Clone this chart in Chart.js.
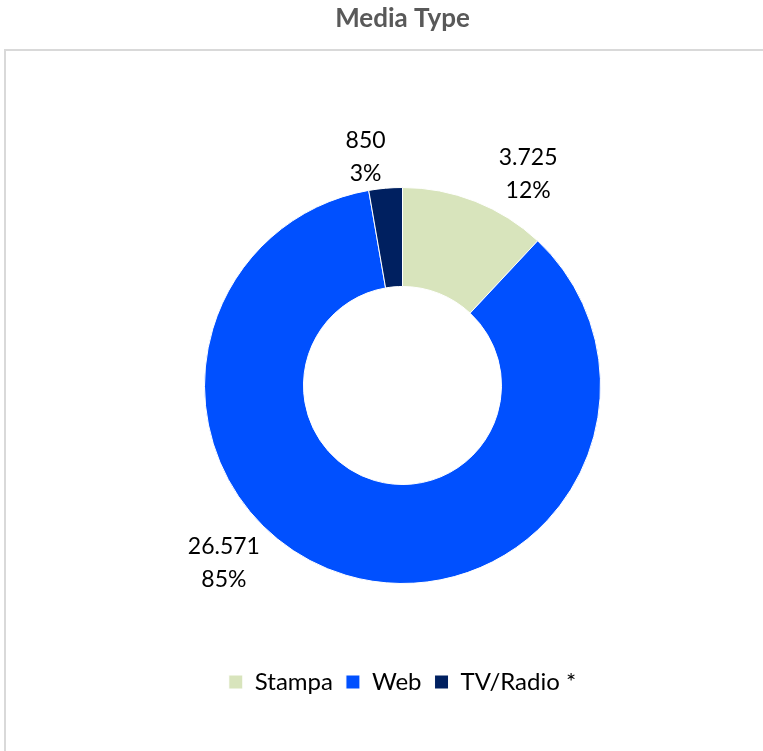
<!DOCTYPE html>
<html>
<head>
<meta charset="utf-8">
<script src="https://cdn.jsdelivr.net/npm/chart.js@4"></script>
<style>
  html, body { margin: 0; padding: 0; background: #fff; }
  #wrap { position: relative; width: 763px; height: 751px; overflow: hidden; }
  #frame { position: absolute; left: 4px; top: 49px; width: 800px; height: 800px; border: 2px solid #d9d9d9; box-sizing: border-box; }
  canvas { position: absolute; left: 0; top: 0; }
</style>
</head>
<body>
<div id="wrap">
  <div id="frame"></div>
  <canvas id="c" width="763" height="751"></canvas>
</div>
<script>
const categories = ['Stampa', 'Web', 'TV/Radio *'];
const values = [3725, 26571, 850];
const valueLabels = ['3.725', '26.571', '850'];
const percentLabels = ['12%', '85%', '3%'];
const colors = ['#d8e4bc', '#0050ff', '#002060'];

// label placement relative to the mid-angle point on the outer edge of each slice
const labelOffsets = [[53, -27], [-122, -12], [-20, -31]];

const labelPlugin = {
  id: 'sliceLabels',
  afterDatasetsDraw(chart) {
    const ctx = chart.ctx;
    const meta = chart.getDatasetMeta(0);
    ctx.save();
    ctx.font = '23px Lato';
    ctx.fillStyle = '#000';
    ctx.textAlign = 'center';
    ctx.textBaseline = 'middle';
    meta.data.forEach((arc, i) => {
      const p = arc.getProps(['x', 'y', 'startAngle', 'endAngle', 'outerRadius'], true);
      const mid = (p.startAngle + p.endAngle) / 2;
      const ax = p.x + Math.cos(mid) * p.outerRadius + labelOffsets[i][0];
      const ay = p.y + Math.sin(mid) * p.outerRadius + labelOffsets[i][1];
      ctx.fillText(valueLabels[i], ax, ay - 16.5);
      ctx.fillText(percentLabels[i], ax, ay + 16.5);
    });
    ctx.restore();
  }
};

new Chart(document.getElementById('c'), {
  type: 'doughnut',
  data: {
    labels: categories,
    datasets: [{
      data: values,
      backgroundColor: colors,
      borderColor: '#ffffff',
      borderWidth: 1,
      hoverOffset: 0,
      clip: false
    }]
  },
  options: {
    responsive: false,
    devicePixelRatio: 1,
    animation: false,
    cutout: '50%',
    layout: { padding: { left: 204, right: 162, top: 0, bottom: 47 } },
    plugins: {
      title: {
        display: true,
        text: 'Media Type',
        color: '#595959',
        font: { family: 'Lato', size: 26, weight: 'bold', lineHeight: 1.2 },
        padding: { top: 3, bottom: 79.8 }
      },
      legend: {
        display: true,
        position: 'bottom',
        labels: {
          color: '#000',
          font: { family: 'Lato', size: 24 },
          boxWidth: 14,
          boxHeight: 14,
          padding: 13
        }
      },
      tooltip: { enabled: false }
    }
  },
  plugins: [labelPlugin]
});
</script>
</body>
</html>
